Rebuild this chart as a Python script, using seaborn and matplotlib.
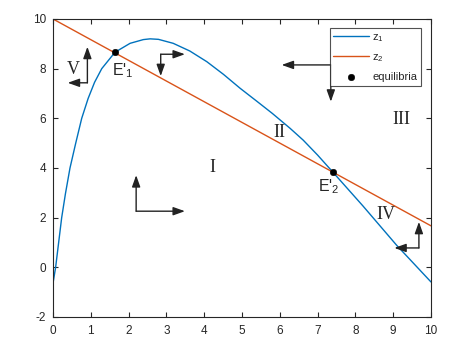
import numpy as np
import pandas as pd
import seaborn as sns
import matplotlib.pyplot as plt

# values
z1_x = [0, 0.07, 0.23, 0.33, 0.45, 0.60, 0.76, 0.93, 1.1, 1.29, 1.64, 2.04, 2.39, 2.57,
        2.79, 3.18, 3.62, 4.07, 4.51, 4.95, 5.39, 5.8, 6.27, 6.62, 7.0, 7.40, 8.2, 9.09, 10]
z1_y = [-0.65, 0, 2, 2.97, 4, 4.99, 6, 6.8, 7.45, 8, 8.66, 9.02, 9.17, 9.2,
        9.18, 9.02, 8.71, 8.28, 7.77, 7.21, 6.69, 6.2, 5.6, 5.12, 4.52, 3.84, 2.47, 0.89, -0.59]
z2_x = [0, 10]
z2_y = [10, 1.67]
eq_x = [1.64, 7.40]
eq_y = [8.66, 3.84]
eq_names = ["E'$_1$", "E'$_2$"]
eq_label_pos = [(1.56, 8.3), (7.01, 3.62)]

regions = ['V', 'I', 'II', 'III', 'IV']
region_pos = [(0.54, 7.95), (4.23, 4.0), (5.99, 5.42), (9.22, 5.96), (8.81, 2.14)]

# L-shaped direction arrows: corner, tip of first leg, tip of second leg
arrows = [
    ((0.91, 7.43), (0.91, 8.88), (0.39, 7.43)),
    ((2.85, 8.58), (2.85, 7.70), (3.49, 8.58)),
    ((2.20, 2.26), (2.20, 3.71), (3.49, 2.26)),
    ((7.35, 8.15), (6.05, 8.15), (7.35, 6.67)),
    ((9.68, 0.78), (9.68, 1.83), (9.03, 0.78)),
]

sns.set_style('ticks')
plt.rcParams['font.family'] = ['Liberation Sans', 'DejaVu Sans']
plt.rcParams['mathtext.fontset'] = 'custom'
plt.rcParams['mathtext.rm'] = 'Liberation Sans'
plt.rcParams['mathtext.it'] = 'Liberation Sans'
plt.rcParams['axes.unicode_minus'] = False

fig = plt.figure(figsize=(4.66, 3.47), dpi=100)
ax = fig.add_axes([0.1137, 0.0865, 0.8112, 0.8588])

blue = '#0072BD'
red = '#D95319'

sns.lineplot(x=z1_x, y=z1_y, sort=False, color=blue, lw=1, ax=ax, label='z$_1$')
sns.lineplot(x=z2_x, y=z2_y, sort=False, color=red, lw=1, ax=ax, label='z$_2$')
sns.scatterplot(x=eq_x, y=eq_y, color='black', s=22, edgecolor='black', ax=ax,
                label='equilibria', zorder=5)

for name, (tx, ty) in zip(eq_names, eq_label_pos):
    ax.text(tx, ty, name, fontsize=11.5, ha='left', va='top')

for name, (tx, ty) in zip(regions, region_pos):
    ax.text(tx, ty, name, fontsize=13, ha='center', va='center',
            family='Liberation Serif')

for corner, tip1, tip2 in arrows:
    for tip in (tip1, tip2):
        ax.annotate('', xy=tip, xytext=corner,
                    arrowprops=dict(arrowstyle='-|>,head_length=0.7,head_width=0.25',
                                    color='#222222', lw=1, shrinkA=0, shrinkB=0))

ax.set_xlim(0, 10)
ax.set_ylim(-2, 10)
ax.set_xticks(range(0, 11))
ax.set_yticks(range(-2, 11, 2))
ax.tick_params(direction='in', top=True, right=True, labelsize=8.5, length=3.5,
               width=0.8, color='#262626', labelcolor='#262626')
ax.tick_params(axis='x', pad=6)
ax.tick_params(axis='y', pad=5)
for sp in ax.spines.values():
    sp.set_visible(True)
    sp.set_color('#262626')
    sp.set_linewidth(0.8)

leg = ax.legend(loc='upper right', bbox_to_anchor=(0.974, 0.97), fontsize=8,
                frameon=True, fancybox=False, edgecolor='#262626', handlelength=3.2,
                handletextpad=0.3, borderaxespad=0, labelspacing=0.75, borderpad=0.35)
leg.get_frame().set_linewidth(0.8)

fig.savefig('out.png', dpi=100)
